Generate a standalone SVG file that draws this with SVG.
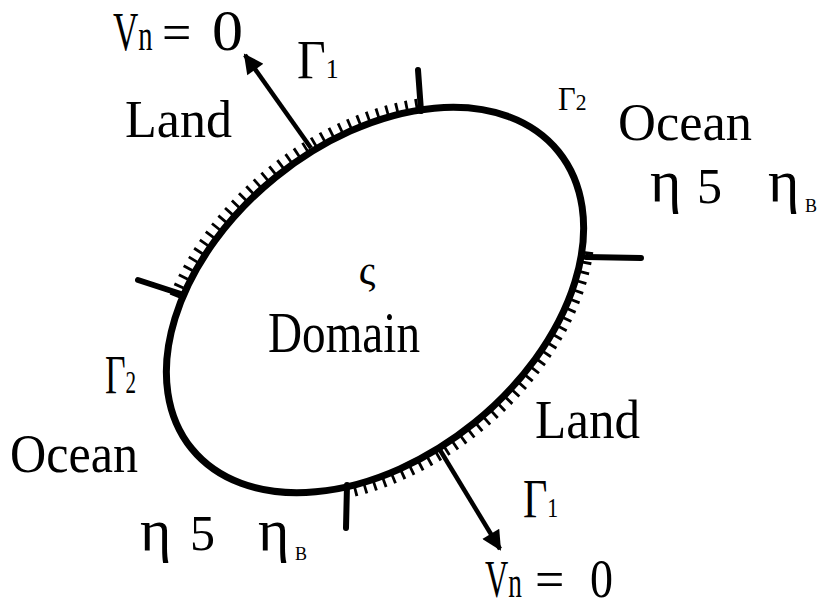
<svg xmlns="http://www.w3.org/2000/svg" width="821" height="608" viewBox="0 0 821 608">
<style>
.t{font-family:"Liberation Serif","Times New Roman",serif;fill:#000}
.bd{fill:none;stroke:#000;stroke-width:7}
.tick{stroke:#000;stroke-width:6;stroke-linecap:round}
.hatch{fill:none;stroke:#000;stroke-width:10;stroke-dasharray:2.8 7.2}
.arr{stroke:#000;stroke-width:4.5;fill:none}
</style>
<defs>
<marker id="ah" viewBox="0 0 10 10" refX="9" refY="5" markerWidth="5" markerHeight="4.4" markerUnits="strokeWidth" orient="auto">
<path d="M0,0 L10,5 L0,10 z" fill="#000"/>
</marker>
</defs>
<rect width="821" height="608" fill="#fff"/>
<g id="domain">
<g transform="translate(375,300) rotate(-39)">
<ellipse class="bd" cx="0" cy="0" rx="236" ry="158"/>
<path class="hatch" d="M -153.6 -129.1 A 242.5 164.5 0 0 1 162.2 -122.3"/>
<path class="hatch" d="M 196.2 96.7 A 242.5 164.5 0 0 1 -146 131.4"/>
</g>
<line class="tick" x1="421" y1="111" x2="418" y2="70"/>
<line class="tick" x1="586" y1="257" x2="641" y2="258"/>
<line class="tick" x1="181" y1="294" x2="138" y2="280"/>
<line class="tick" x1="347" y1="485" x2="346" y2="528"/>
<text class="t" x="367" y="284" font-size="42" text-anchor="middle">ς</text>
<text class="t" x="268" y="352" font-size="58" textLength="152" lengthAdjust="spacingAndGlyphs">Domain</text>
</g>
<g id="connectors">
<line class="arr" x1="311" y1="148" x2="245" y2="55" marker-end="url(#ah)"/>
<line class="arr" x1="440" y1="450" x2="500" y2="549" marker-end="url(#ah)"/>
</g>
<g id="land-top">
<text class="t" transform="translate(113,50) scale(0.65,1)" font-size="54">V<tspan font-size="44">n</tspan></text>
<text class="t" x="162" y="50" font-size="52">=</text>
<text class="t" x="212" y="50" font-size="56" textLength="31" lengthAdjust="spacingAndGlyphs">0</text>
<text class="t" transform="translate(297,78) scale(0.92,1)" font-size="54">Γ<tspan font-size="28">1</tspan></text>
<text class="t" x="125" y="137" font-size="52" textLength="107" lengthAdjust="spacingAndGlyphs">Land</text>
</g>
<g id="ocean-right">
<text class="t" transform="translate(558,110) scale(0.9,1)" font-size="34">Γ<tspan font-size="24">2</tspan></text>
<text class="t" x="618" y="140" font-size="52" textLength="134" lengthAdjust="spacingAndGlyphs">Ocean</text>
<text class="t" x="650" y="201" font-size="60">η</text>
<text class="t" x="697" y="203" font-size="50">5</text>
<text class="t" x="768" y="201" font-size="60">η</text>
<text class="t" x="805" y="212" font-size="18">B</text>
</g>
<g id="ocean-left">
<text class="t" transform="translate(105,393) scale(0.66,1)" font-size="54">Γ<tspan font-size="32">2</tspan></text>
<text class="t" x="10" y="472" font-size="55" textLength="128" lengthAdjust="spacingAndGlyphs">Ocean</text>
<text class="t" x="140" y="550" font-size="60">η</text>
<text class="t" x="190" y="550" font-size="50">5</text>
<text class="t" x="258" y="550" font-size="60">η</text>
<text class="t" x="295" y="560" font-size="18">B</text>
</g>
<g id="land-bottom">
<text class="t" x="535" y="438" font-size="54" textLength="105" lengthAdjust="spacingAndGlyphs">Land</text>
<text class="t" transform="translate(523,517) scale(0.78,1)" font-size="54">Γ<tspan font-size="28">1</tspan></text>
<text class="t" transform="translate(485,597) scale(0.62,1)" font-size="52">V<tspan font-size="44">n</tspan></text>
<text class="t" x="535" y="597" font-size="52">=</text>
<text class="t" x="590" y="597" font-size="54" textLength="23" lengthAdjust="spacingAndGlyphs">0</text>
</g>
</svg>
